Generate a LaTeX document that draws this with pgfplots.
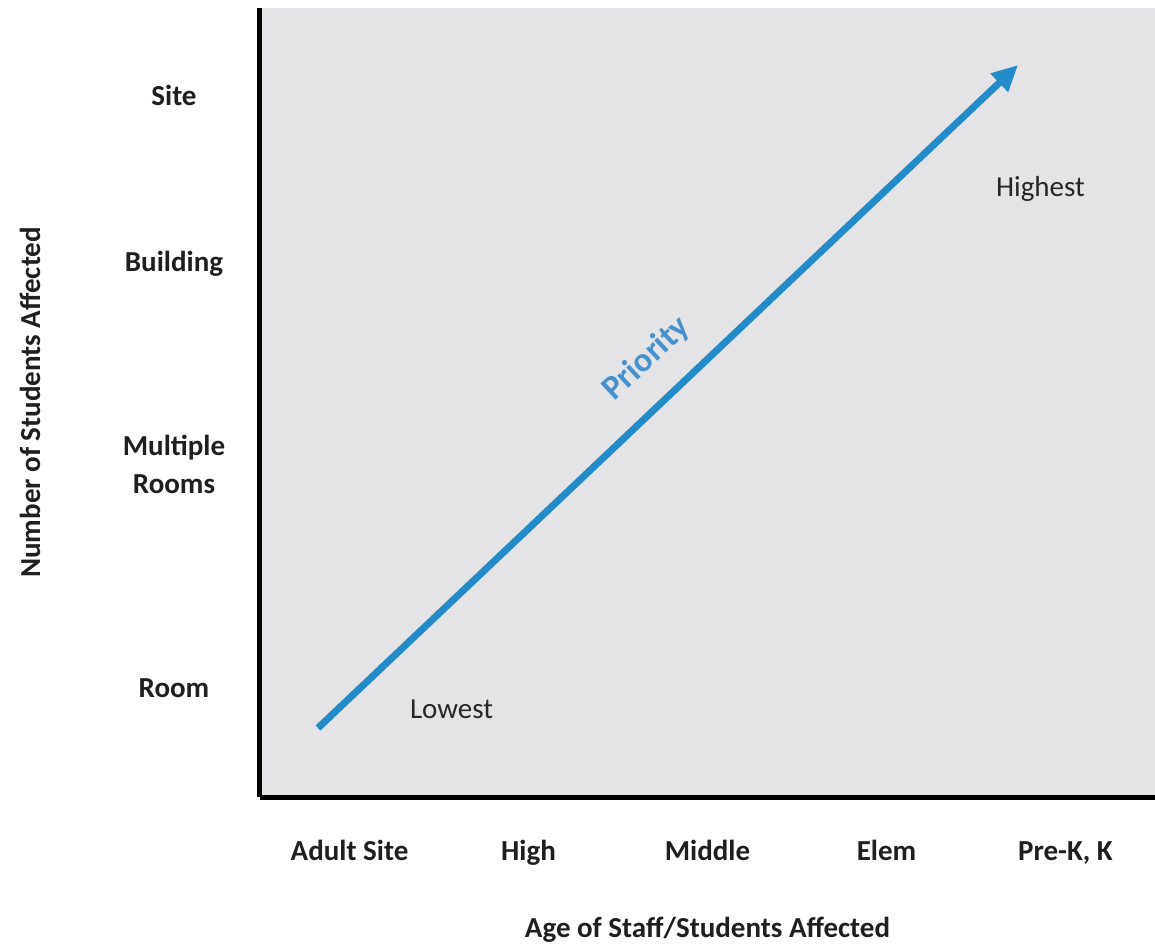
\documentclass[border=0pt]{standalone}
\usepackage{pgfplots}
\pgfplotsset{compat=1.18}
\usepackage{fontspec}
\setmainfont{Carlito}
\usetikzlibrary{arrows.meta}
\definecolor{arrowblue}{RGB}{35,140,200}
\definecolor{textblue}{RGB}{70,145,205}
\definecolor{bggray}{RGB}{228,228,231}
\begin{document}
\begin{tikzpicture}
\begin{axis}[
  scale only axis,
  width=447.5pt, height=394.5pt,
  xmin=0, xmax=5, ymin=0, ymax=789,
  axis lines=left,
  axis line style={-, line width=2.5pt, black},
  x axis line style={-}, y axis line style={-},
  axis background/.style={fill=bggray},
  xtick={0.5,1.5,2.5,3.5,4.5},
  xticklabels={Adult Site, High, Middle, Elem, {Pre-K, K}},
  ytick={109,333,533,702},
  yticklabels={Room, {Multiple\\Rooms}, Building, Site},
  major tick length=0pt,
  tick label style={font=\fontsize{14.5}{19}\selectfont\bfseries, text=black!88},
  xticklabel style={anchor=base, yshift=-31.5pt},
  yticklabel style={anchor=center, xshift=-43pt, align=center},
  xlabel={Age of Staff/Students Affected},
  ylabel={Number of Students Affected},
  label style={font=\fontsize{14.5}{17}\selectfont\bfseries, text=black!88},
  xlabel style={at={(axis description cs:0.5,-0.1686)}, anchor=center},
  ylabel style={at={(axis description cs:-0.257,0.5)}, anchor=center},
  clip=false,
]
\addplot[arrowblue, line width=3.5pt, -{Triangle[length=13pt,width=12pt]}]
  coordinates {(0.324,69) (4.235,732)};
\node[font=\fontsize{14.5}{17}\selectfont, text=black!85] at (axis cs:1.07,88) {Lowest};
\node[font=\fontsize{14.5}{17}\selectfont, text=black!85] at (axis cs:4.36,608) {Highest};
\node[font=\fontsize{17}{20}\selectfont\bfseries, text=textblue, rotate=43] at (axis cs:2.16,438) {Priority};
\end{axis}
\pgfresetboundingbox
\path[use as bounding box] ([xshift=-130pt,yshift=-75pt]current axis.south west) rectangle ([yshift=4pt]current axis.north east);
\end{tikzpicture}
\end{document}
